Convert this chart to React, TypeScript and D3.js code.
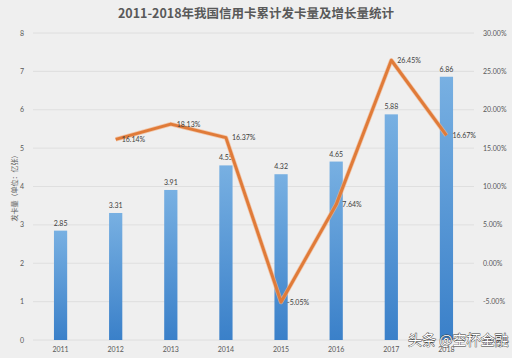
import React from "react";
import * as d3 from "d3";

const years = ["2011", "2012", "2013", "2014", "2015", "2016", "2017", "2018"];
const cards = [2.85, 3.31, 3.91, 4.55, 4.32, 4.65, 5.88, 6.86];
const growthYears = ["2012", "2013", "2014", "2015", "2016", "2017", "2018"];
const growth = [16.14, 18.13, 16.37, -5.05, 7.64, 26.45, 16.67];
const leftTicks = [0, 1, 2, 3, 4, 5, 6, 7, 8];
const rightTicks = [-10, -5, 0, 5, 10, 15, 20, 25, 30];

const W = 512, H = 358;
const M = { left: 33, right: 38, top: 33, bottom: 18 };

export default function App() {
  const x = d3.scaleBand().domain(years).range([M.left, W - M.right]).paddingInner(0.76).paddingOuter(0.38);
  const yL = d3.scaleLinear().domain([0, 8]).range([H - M.bottom, M.top]);
  const yR = d3.scaleLinear().domain([-10, 30]).range([H - M.bottom, M.top]);
  const cx = (y: string) => (x(y) as number) + x.bandwidth() / 2;
  const line = d3.line<number>().x((_, i) => cx(growthYears[i])).y((d) => yR(d));
  const font = "Lato, 'Open Sans', sans-serif";
  return (
    <svg width={W} height={H} style={{ position: "absolute", left: 0, top: 0, background: "#efefef" }}>
      <defs>
        <linearGradient id="bar" x1="0" y1="0" x2="0" y2="1">
          <stop offset="0" stopColor="#78b0e2" />
          <stop offset="1" stopColor="#3a80c9" />
        </linearGradient>
      </defs>
      <rect width={W} height={H} fill="#efefef" />
      <text x={256} y={18} textAnchor="middle" fontFamily="'Noto Sans CJK SC', sans-serif" fontWeight="bold" fontSize={12.5} fill="#595959">
        2011-2018年我国信用卡累计发卡量及增长量统计
      </text>
      {leftTicks.map((t) => (
        <g key={t}>
          <line x1={M.left} x2={W - M.right} y1={yL(t)} y2={yL(t)} stroke="#dadada" strokeWidth={0.8} />
          <text x={24} y={yL(t) + 2.5} textAnchor="end" fontFamily={font} fontSize={7} fill="#595959">{t}</text>
        </g>
      ))}
      {rightTicks.map((t) => (
        <text key={t} x={483} y={yR(t) + 2.5} fontFamily={font} fontSize={7} fill="#595959">{t.toFixed(2) + "%"}</text>
      ))}
      <text transform={`translate(17,${(M.top + H - M.bottom) / 2}) rotate(-90)`} textAnchor="middle" fontFamily="'Noto Sans CJK SC', sans-serif" fontSize={7} fill="#595959">
        发卡量（单位：亿张）
      </text>
      {cards.map((v, i) => (
        <g key={years[i]}>
          <rect x={x(years[i])} y={yL(v)} width={x.bandwidth()} height={yL(0) - yL(v)} fill="url(#bar)" />
          <text x={cx(years[i])} y={yL(v) - 5} textAnchor="middle" fontFamily={font} fontSize={7} fill="#404040">{v.toFixed(2)}</text>
        </g>
      ))}
      {years.map((y) => (
        <text key={y} x={cx(y)} y={352} textAnchor="middle" fontFamily={font} fontSize={7} fill="#595959">{y}</text>
      ))}
      <path d={line(growth) || ""} fill="none" stroke="#f2b48a" strokeWidth={4.5} strokeLinejoin="round" opacity={0.7} />
      <path d={line(growth) || ""} fill="none" stroke="#e07b39" strokeWidth={3} strokeLinejoin="round" />
      {growth.map((g, i) => (
        <text key={i} x={cx(growthYears[i]) + 6} y={yR(g) + 2.5} fontFamily={font} fontSize={7} fill="#404040">{g.toFixed(2) + "%"}</text>
      ))}
      <text x={408} y={345} fontFamily="'Noto Sans CJK SC', sans-serif" fontSize={14} fill="#ffffff" stroke="#333" strokeWidth={0.8} paintOrder="stroke">
        头条 @空杯金融
      </text>
    </svg>
  );
}
